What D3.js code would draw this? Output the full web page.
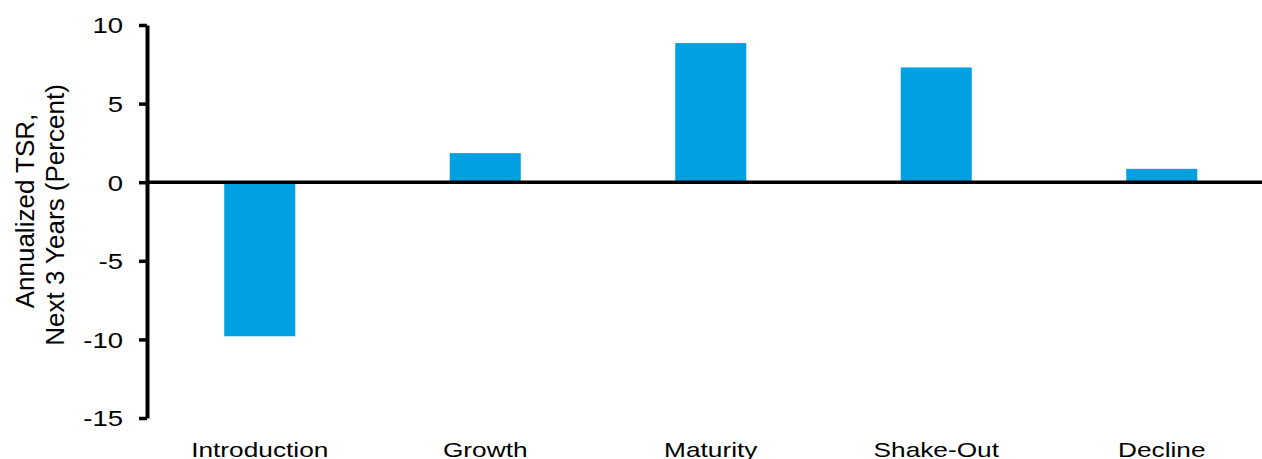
<!DOCTYPE html>
<html>
<head>
<meta charset="utf-8">
<script src="https://cdn.jsdelivr.net/npm/d3@7"></script>
<style>
  html, body { margin: 0; padding: 0; background: #fff; }
  svg { display: block; font-family: "Liberation Sans", Arial, sans-serif; }
</style>
</head>
<body>
<div id="chart"></div>
<script>
// data
const stages = ["Introduction", "Growth", "Maturity", "Shake-Out", "Decline"];
const tsr = [-9.8, 1.85, 8.85, 7.3, 0.85];
const yTicks = [-15, -10, -5, 0, 5, 10];
const yTitle = ["Annualized TSR,", "Next 3 Years (Percent)"];

const W = 1262, H = 459;
const plotLeft = 147, plotTop = 25, plotBottom = 418;
const stretch = 1.25; // text in the reference looks widened sideways

const svg = d3.select("#chart")
  .append("svg")
  .attr("width", W)
  .attr("height", H);

const y = d3.scaleLinear()
  .domain([-15, 10])
  .range([plotBottom, plotTop]);

// the category band runs a bit past the right edge, like the reference
const x = d3.scaleBand()
  .domain(stages)
  .range([plotLeft, plotLeft + 5 * 225.5])
  .paddingInner(0.685)
  .paddingOuter(0.3425);

// bars
svg.append("g")
  .selectAll("rect")
  .data(stages)
  .enter()
  .append("rect")
  .attr("x", d => x(d))
  .attr("width", x.bandwidth())
  .attr("y", (d, i) => y(Math.max(0, tsr[i])))
  .attr("height", (d, i) => Math.abs(y(tsr[i]) - y(0)))
  .attr("fill", "#00a1e1");

// zero line
svg.append("line")
  .attr("x1", plotLeft)
  .attr("x2", W)
  .attr("y1", y(0))
  .attr("y2", y(0))
  .attr("stroke", "#000")
  .attr("stroke-width", 3.5);

// y axis (plain hyphen for negatives, not the unicode minus)
const yAxis = svg.append("g")
  .attr("transform", `translate(${plotLeft},0)`)
  .call(d3.axisLeft(y)
    .tickValues(yTicks)
    .tickFormat(d => String(d))
    .tickSize(8)
    .tickSizeOuter(0));

yAxis.select(".domain").attr("stroke-width", 4);
yAxis.selectAll(".tick line").attr("stroke-width", 3.5);
yAxis.selectAll(".tick text")
  .attr("x", 0)
  .attr("dy", "0.36em")
  .attr("transform", `translate(-24,0) scale(${stretch},1)`)
  .style("font-size", "22px")
  .attr("fill", "#000");

// x labels
const xAxis = svg.append("g")
  .attr("transform", `translate(0,${plotBottom})`)
  .call(d3.axisBottom(x).tickSize(0));

xAxis.select(".domain").remove();
xAxis.selectAll(".tick text")
  .attr("y", 0)
  .attr("dy", 0)
  .attr("transform", `translate(0,39) scale(${stretch},1)`)
  .style("font-size", "21px")
  .attr("fill", "#000");

// y title
const title = svg.append("text")
  .attr("transform", "rotate(-90)")
  .attr("text-anchor", "middle")
  .style("font-size", "26px")
  .attr("fill", "#000");

title.append("tspan")
  .attr("x", -211)
  .attr("y", 34)
  .text(yTitle[0]);

title.append("tspan")
  .attr("x", -215)
  .attr("y", 64)
  .text(yTitle[1]);
</script>
</body>
</html>
